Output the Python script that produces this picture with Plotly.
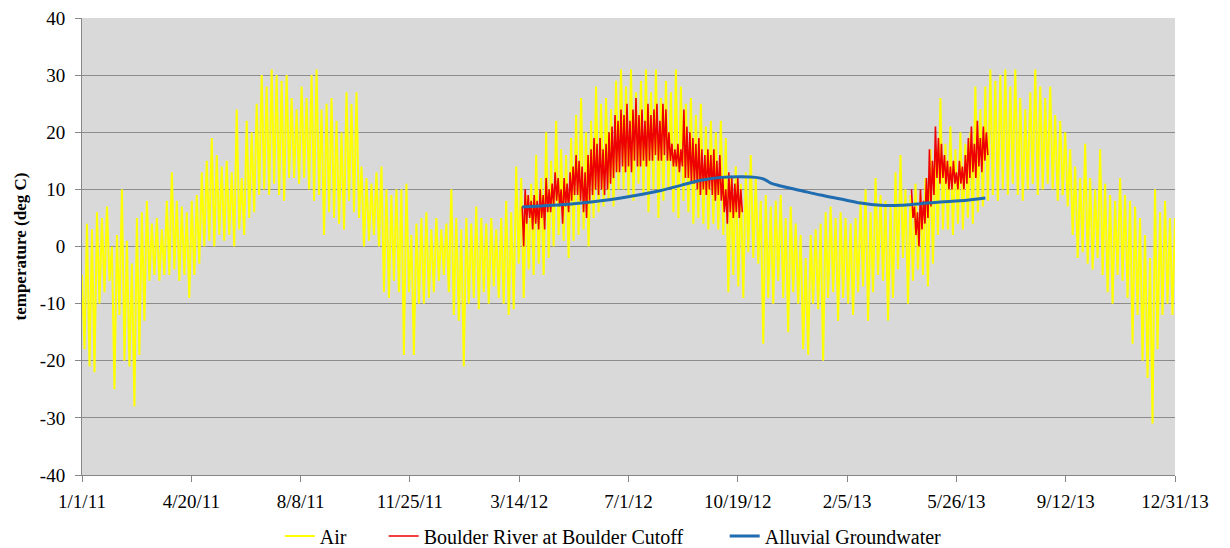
import numpy as np
import pandas as pd
import plotly.graph_objects as go

# ---- Data -----------------------------------------------------------------
start = pd.Timestamp("2011-01-01")
end = pd.Timestamp("2013-12-31")

# Air temperature: high / low of each 5-day block, starting 1/1/11
air_step_days = 5
air_hi = [-5, 4, 3, 6, 5, 7, 0, 2, 10, 1,
          -3, 5, 6, 8, 4, 5, 3, 8, 13, 8,
          7, 6, 8, 9, 13, 15, 19, 16, 14, 15,
          13, 24, 12, 22, 20, 25, 30, 28, 31, 30,
          29, 30, 26, 24, 28, 26, 30, 31, 24, 25,
          26, 22, 20, 27, 25, 27, 14, 12, 11, 13,
          14, 10, 9, 10, 10, 11, 2, 4, 5, 6,
          3, 5, 3, 4, 10, 5, 3, 5, 4, 7,
          5, 4, 5, 3, 5, 8, 6, 14, 12, 9,
          11, 16, 12, 20, 15, 22, 17, 16, 19, 23,
          26, 20, 22, 28, 25, 26, 24, 29, 31, 28,
          31, 27, 29, 31, 27, 31, 26, 29, 27, 31,
          28, 25, 26, 23, 25, 21, 22, 20, 22, 19,
          12, 14, 11, 13, 16, 12, 8, 9, 7, 8,
          9, 5, 7, 4, 2, -2, 2, 3, 4, 6,
          7, 5, 6, 5, 4, 5, 8, 10, 6, 12,
          9, 8, 7, 13, 16, 10, 9, 11, 9, 12,
          17, 16, 26, 18, 21, 17, 20, 18, 20, 28,
          24, 28, 31, 29, 30, 31, 28, 31, 26, 24,
          27, 31, 28, 26, 28, 23, 22, 20, 17, 14,
          12, 18, 12, 10, 17, 11, 9, 8, 12, 9,
          8, 7, 5, 2, -2, 10, 6, 8, 5, 5]
air_lo = [-18, -21, -22, -10, -8, -6, -25, -12, -20, -21,
          -28, -19, -13, -6, -5, -6, -5, -5, -4, -6,
          -5, -9, -5, -3, 0, 1, 0, 2, 1, 2,
          0, 3, 2, 5, 6, 9, 10, 9, 11, 9,
          8, 12, 12, 11, 12, 10, 8, 9, 2, 6,
          5, 4, 3, 8, 6, 5, 0, 1, 2, 0,
          -8, -9, -6, -8, -19, -8, -19, -10, -10, -9,
          -8, -6, -5, -8, -12, -13, -21, -10, -9, -11,
          -8, -10, -7, -9, -10, -12, -11, -3, -9, -4,
          -5, -3, -5, -2, 0, 2, 1, -2, 1, 2,
          3, 0, 5, 6, 7, 8, 7, 10, 10, 9,
          8, 11, 9, 6, 10, 5, 8, 10, 6, 5,
          8, 6, 4, 5, 4, 3, 4, 3, 2, -8,
          -5, -7, -9, -1, -2, -3, -17, -9, -10, -6,
          -9, -15, -8, -10, -18, -19, -10, -11, -20, -9,
          -8, -13, -9, -10, -12, -8, -7, -13, -8, -5,
          -6, -13, -9, -4, -2, -10, -6, -4, -5, -7,
          -3, 2, 3, 3, 2, 4, 3, 5, 4, 6,
          7, 8, 9, 8, 10, 9, 11, 9, 8, 10,
          11, 9, 10, 11, 10, 8, 9, 7, 2, -2,
          -1, -3, -4, -2, -5, -8, -10, -5, -6, -9,
          -17, -12, -20, -23, -31, -18, -12, -10, -12, -3]

# Boulder River at Boulder Cutoff: high / low of each 3-day block
river_step_days = 3
river_2012_start = "2012-03-17"
river_2012_hi = [7, 10, 9, 8, 9, 8, 10, 9, 12, 10,
                 11, 13, 12, 10, 12, 11, 13, 14, 16, 15,
                 14, 13, 16, 17, 19, 18, 19, 17, 18, 20,
                 21, 23, 22, 24, 23, 25, 22, 24, 26, 23,
                 24, 22, 25, 23, 24, 25, 22, 25, 24, 20,
                 18, 17, 18, 17, 24, 21, 20, 19, 18, 19,
                 17, 16, 17, 16, 17, 15, 16, 12, 10, 13,
                 12, 11, 12, 10]
river_2012_lo = [0, 4, 5, 3, 4, 3, 5, 3, 6, 6,
                 7, 8, 7, 4, 7, 6, 8, 9, 9, 8,
                 6, 5, 8, 9, 10, 9, 10, 9, 10, 11,
                 12, 13, 13, 14, 13, 14, 13, 15, 14, 14,
                 15, 14, 15, 15, 16, 15, 15, 16, 15, 15,
                 14, 14, 13, 14, 12, 12, 11, 11, 10, 9,
                 10, 9, 10, 9, 8, 9, 8, 6, 4, 6,
                 5, 6, 5, 6]
river_2013_start = "2013-04-11"
river_2013_hi = [10, 7, 6, 10, 8, 12, 17, 15, 21, 19,
                 18, 16, 15, 14, 15, 13, 15, 14, 16, 19,
                 21, 18, 22, 19, 21, 20]
river_2013_lo = [5, 2, 0, 3, 4, 5, 7, 9, 12, 11,
                 12, 11, 10, 10, 11, 10, 11, 10, 11, 12,
                 13, 12, 14, 13, 15, 16]

# Alluvial groundwater
gw_dates = ["2012-03-17", "2012-04-05", "2012-04-25", "2012-05-15", "2012-06-04",
            "2012-06-24", "2012-07-14", "2012-08-03", "2012-08-23", "2012-09-12",
            "2012-10-02", "2012-10-22", "2012-11-06", "2012-11-14", "2012-11-21",
            "2012-12-01", "2012-12-21", "2013-01-10", "2013-01-30", "2013-02-19",
            "2013-03-11", "2013-03-31", "2013-04-20", "2013-05-10", "2013-05-30",
            "2013-06-24"]
gw_temp = [6.9, 7.1, 7.3, 7.6, 8.0, 8.5, 9.1, 9.8, 10.7, 11.6,
           12.1, 12.2, 12.1, 11.8, 11.1, 10.6, 9.8, 9.0, 8.3, 7.6,
           7.2, 7.2, 7.5, 7.8, 8.0, 8.5]

tick_labels = ["1/1/11", "4/20/11", "8/8/11", "11/25/11", "3/14/12", "7/1/12",
               "10/19/12", "2/5/13", "5/26/13", "9/12/13", "12/31/13"]
y_ticks = [-40, -30, -20, -10, 0, 10, 20, 30, 40]


# ---- Helpers ----------------------------------------------------------------
def hi_lo_trace(first_day, step_days, hi, lo):
    """Interleave block highs and lows into one zig-zag line."""
    xs, ys = [], []
    t0 = pd.Timestamp(first_day)
    for i, (h, l) in enumerate(zip(hi, lo)):
        xs.append(t0 + pd.Timedelta(days=i * step_days))
        ys.append(h)
        xs.append(t0 + pd.Timedelta(days=i * step_days + step_days / 2))
        ys.append(l)
    return xs, ys


air_x, air_y = hi_lo_trace(start, air_step_days, air_hi, air_lo)
r1x, r1y = hi_lo_trace(river_2012_start, river_step_days, river_2012_hi, river_2012_lo)
r2x, r2y = hi_lo_trace(river_2013_start, river_step_days, river_2013_hi, river_2013_lo)
river_x = r1x + [None] + r2x
river_y = r1y + [None] + r2y

n_int = len(tick_labels) - 1
span = (end - start) / n_int
tick_vals = [start + span * i for i in range(len(tick_labels))]

# ---- Figure -----------------------------------------------------------------
serif = "Liberation Serif"

fig = go.Figure()
fig.add_trace(go.Scatter(x=air_x, y=air_y, mode="lines", name="Air",
                         line=dict(color="#FFFF00", width=2), legend="legend"))
fig.add_trace(go.Scatter(x=river_x, y=river_y, mode="lines",
                         name="Boulder River at Boulder Cutoff",
                         line=dict(color="#EE0000", width=1.6), connectgaps=False,
                         legend="legend2"))
fig.add_trace(go.Scatter(x=pd.to_datetime(gw_dates), y=gw_temp, mode="lines",
                         name="Alluvial Groundwater",
                         line=dict(color="#1F6DB0", width=3, shape="spline"),
                         legend="legend3"))

legend_common = dict(orientation="h", xanchor="left", visible=True,
                     yref="container", y=0.022, yanchor="middle",
                     font=dict(family=serif, size=20),
                     bgcolor="rgba(0,0,0,0)")

fig.update_layout(
    width=1230, height=548,
    margin=dict(l=82, r=55, t=18, b=73, autoexpand=False),
    paper_bgcolor="white",
    plot_bgcolor="#D9D9D9",
    font=dict(family=serif, size=19, color="black"),
    showlegend=True,
    legend=dict(x=0.181, **legend_common),
    legend2=dict(x=0.276, **legend_common),
    legend3=dict(x=0.588, **legend_common),
)
fig.update_xaxes(
    type="date", range=[start, end],
    tickvals=tick_vals, ticktext=tick_labels,
    showgrid=False, zeroline=False, automargin=False,
    showline=True, linecolor="#868686", linewidth=1,
    ticks="outside", ticklen=6, tickcolor="#868686",
    tickfont=dict(family=serif, size=19),
    ticklabelstandoff=3,
)
fig.update_yaxes(
    range=[-40, 40],
    tickvals=y_ticks, ticktext=[str(v) for v in y_ticks],
    showgrid=True, gridcolor="#8C8C8C", gridwidth=1,
    zeroline=False, automargin=False,
    showline=True, linecolor="#868686", linewidth=1,
    ticks="outside", ticklen=6, tickcolor="#868686",
    tickfont=dict(family=serif, size=19),
    ticklabelstandoff=6,
    title=dict(text="<b>temperature (deg C)</b>", standoff=8,
               font=dict(family=serif, size=17)),
)

fig.write_html("out.html")
